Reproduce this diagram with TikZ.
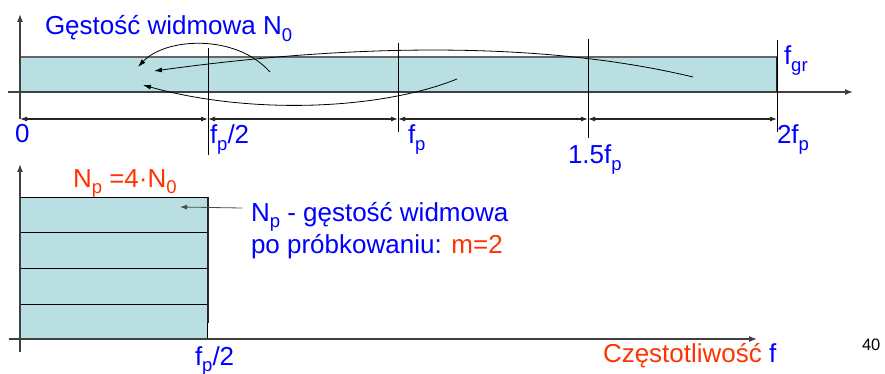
\documentclass[tikz,border=0pt]{standalone}
\usepackage{fontspec}
\setmainfont{Liberation Sans}
\usetikzlibrary{arrows.meta}
\definecolor{fillb}{RGB}{185,223,226}
\definecolor{tblue}{RGB}{0,0,255}
\definecolor{tred}{RGB}{255,51,0}
\newcommand{\sbs}[1]{\raisebox{-6.5pt}{\fontsize{18.5}{18.5}\selectfont #1}}
\begin{document}
\begin{tikzpicture}[x=1pt,y=-1pt,
  lbl/.style={anchor=base west, inner sep=0pt, outer sep=0pt, font=\fontsize{26}{30}\selectfont, text=tblue},
  axis/.style={line width=1.2pt, draw=black!75, -{Latex[length=8pt,width=6pt]}},
  dim/.style={line width=1.1pt, draw=black!85, {Latex[length=7pt,width=5pt]}-{Latex[length=7pt,width=5pt]}},
  tick/.style={line width=0.8pt, draw=black},
  curv/.style={line width=0.8pt, draw=black, -{Latex[length=8pt,width=5pt]}},
  bandedge/.style={line width=1.6pt, draw=black!60},
  stripe/.style={fill=fillb, draw=black, line width=0.9pt},
  ann/.style={line width=0.8pt, draw=black!70, -{Latex[length=7pt,width=5pt]}}]
\useasboundingbox (0,0) rectangle (885,374);
% ---------- top panel ----------
\fill[fillb] (20,57) rectangle (777,92);
\draw[bandedge] (20,57) -- (777,57);
\draw[bandedge] (20,92) -- (777,92);
\draw[line width=1.4pt, draw=black!85] (777,57) -- (777,92);
\draw[axis] (20,119) -- (20,14);
\draw[axis] (8,92) -- (853,92);
\coordinate (t0) at (20,119);
\coordinate (t1) at (208,119);
\coordinate (t2) at (398,119);
\coordinate (t3) at (588,119);
\coordinate (t4) at (777,119);
\draw[tick] (208,48) -- (208,155);
\draw[tick] (398,43) -- (398,132);
\draw[tick] (588,39) -- (588,138);
\draw[tick] (777,40) -- (777,132);
\draw[dim] (t0) -- (t1);
\draw[dim] (t1) -- (t2);
\draw[dim] (t2) -- (t3);
\draw[dim] (t3) -- (t4);
% folding arrows
\coordinate (c1s) at (270,72);
\coordinate (c1e) at (138,67);
\coordinate (c2s) at (693,77);
\coordinate (c2e) at (154,71);
\coordinate (c3s) at (457,79);
\coordinate (c3e) at (143,85);
\draw[curv] (c1s) .. controls (235,33) and (165,38) .. (c1e);
\draw[curv] (c2s) .. controls (560,45) and (380,40) .. (c2e);
\draw[curv] (c3s) .. controls (380,110) and (250,115) .. (c3e);
% labels
\node[lbl] (title) at (45,35) {Gęstość widmowa N\sbs{0}};
\node[lbl] (l0) at (15,143) {0};
\node[lbl] (lhalf) at (210,144) {f\sbs{p}/2};
\node[lbl] (lfp) at (408,144) {f\sbs{p}};
\node[lbl] (l15) at (568,164) {1.5f\sbs{p}};
\node[lbl] (l2) at (777,144) {2f\sbs{p}};
\node[lbl] (lfgr) at (784,65) {f\sbs{gr}};
% ---------- bottom panel ----------
\draw[stripe] (20,304) rectangle (207,339);
\draw[stripe] (20,268) rectangle (207,304);
\draw[stripe] (20,232) rectangle (207,268);
\draw[stripe] (20,197) rectangle (207,232);
\draw[line width=1.4pt, draw=black!85] (208,197) -- (208,323);
\draw[axis] (20,352) -- (20,164);
\draw[axis] (9,339) -- (757,339);
\node[lbl, text=tred] (np) at (73,187) {N\sbs{p} =4·N\sbs{0}};
\node[lbl] (desc1) at (251,221) {N\sbs{p} - gęstość widmowa};
\node[lbl] (desc2) at (251,253) {po próbkowaniu: \textcolor{tred}{m=2}};
\coordinate (annS) at (242,208);
\coordinate (annE) at (180,207);
\draw[ann] (annS) -- (annE);
\node[lbl] (lhalf2) at (195,365) {f\sbs{p}/2};
\node[lbl, text=tred] (freq) at (603,362) {Częstotliwość \textcolor{tblue}{f}};
\node[lbl, text=black, font=\fontsize{16.5}{20}\selectfont] (pnum) at (862,350) {40};
\end{tikzpicture}
\end{document}
